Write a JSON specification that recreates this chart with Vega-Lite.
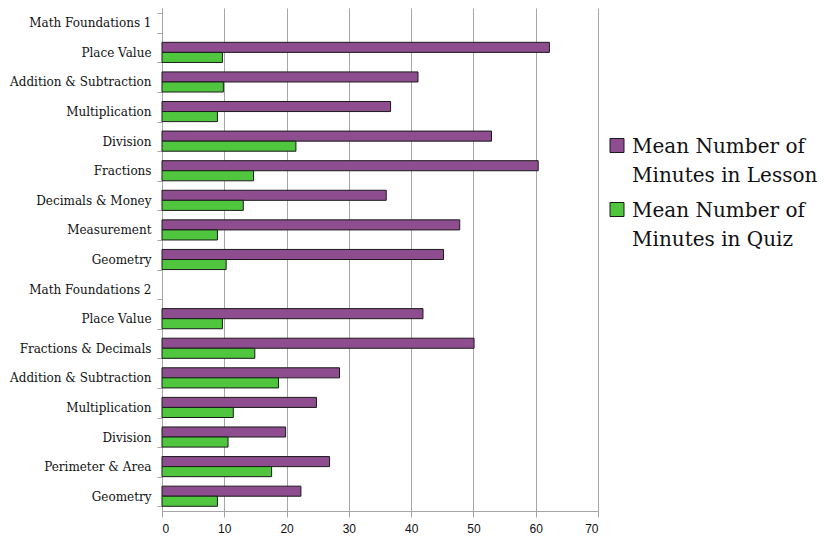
{
  "$schema": "https://vega.github.io/schema/vega-lite/v6.json",
  "width": 436,
  "height": 503,
  "autosize": {"type": "none"},
  "padding": {"left": 162, "top": 8, "right": 229, "bottom": 25},
  "background": "white",
  "data": {
    "values": [
      {"key": "01|Math Foundations 1", "series": "Lesson", "minutes": null},
      {"key": "02|Place Value", "series": "Lesson", "minutes": 62.2},
      {"key": "02|Place Value", "series": "Quiz", "minutes": 9.7},
      {"key": "03|Addition & Subtraction", "series": "Lesson", "minutes": 41.1},
      {"key": "03|Addition & Subtraction", "series": "Quiz", "minutes": 9.85},
      {"key": "04|Multiplication", "series": "Lesson", "minutes": 36.7},
      {"key": "04|Multiplication", "series": "Quiz", "minutes": 8.9},
      {"key": "05|Division", "series": "Lesson", "minutes": 52.9},
      {"key": "05|Division", "series": "Quiz", "minutes": 21.5},
      {"key": "06|Fractions", "series": "Lesson", "minutes": 60.4},
      {"key": "06|Fractions", "series": "Quiz", "minutes": 14.7},
      {"key": "07|Decimals & Money", "series": "Lesson", "minutes": 36.0},
      {"key": "07|Decimals & Money", "series": "Quiz", "minutes": 13.05},
      {"key": "08|Measurement", "series": "Lesson", "minutes": 47.8},
      {"key": "08|Measurement", "series": "Quiz", "minutes": 8.9},
      {"key": "09|Geometry", "series": "Lesson", "minutes": 45.2},
      {"key": "09|Geometry", "series": "Quiz", "minutes": 10.3},
      {"key": "10|Math Foundations 2", "series": "Lesson", "minutes": null},
      {"key": "11|Place Value", "series": "Lesson", "minutes": 41.9},
      {"key": "11|Place Value", "series": "Quiz", "minutes": 9.7},
      {"key": "12|Fractions & Decimals", "series": "Lesson", "minutes": 50.1},
      {"key": "12|Fractions & Decimals", "series": "Quiz", "minutes": 14.9},
      {"key": "13|Addition & Subtraction", "series": "Lesson", "minutes": 28.5},
      {"key": "13|Addition & Subtraction", "series": "Quiz", "minutes": 18.7},
      {"key": "14|Multiplication", "series": "Lesson", "minutes": 24.8},
      {"key": "14|Multiplication", "series": "Quiz", "minutes": 11.45},
      {"key": "15|Division", "series": "Lesson", "minutes": 19.85},
      {"key": "15|Division", "series": "Quiz", "minutes": 10.6},
      {"key": "16|Perimeter & Area", "series": "Lesson", "minutes": 26.9},
      {"key": "16|Perimeter & Area", "series": "Quiz", "minutes": 17.6},
      {"key": "17|Geometry", "series": "Lesson", "minutes": 22.3},
      {"key": "17|Geometry", "series": "Quiz", "minutes": 8.9}
    ]
  },
  "mark": {"type": "bar", "stroke": "#1a1a1a", "strokeWidth": 1},
  "encoding": {
    "y": {
      "field": "key",
      "type": "nominal",
      "scale": {
        "domain": ["01|Math Foundations 1", "02|Place Value", "03|Addition & Subtraction", "04|Multiplication", "05|Division", "06|Fractions", "07|Decimals & Money", "08|Measurement", "09|Geometry", "10|Math Foundations 2", "11|Place Value", "12|Fractions & Decimals", "13|Addition & Subtraction", "14|Multiplication", "15|Division", "16|Perimeter & Area", "17|Geometry"],
        "paddingInner": 0.32,
        "paddingOuter": 0.16
      },
      "axis": {
        "title": null,
        "labelExpr": "split(datum.label, '|')[1]",
        "labelFont": "DejaVu Serif",
        "labelFontSize": 12,
        "labelColor": "#111111",
        "labelPadding": 6,
        "domainColor": "#a6a6a6",
        "tickColor": "#a6a6a6",
        "tickBand": "extent",
        "tickSize": 5,
        "grid": false
      }
    },
    "yOffset": {
      "field": "series",
      "type": "nominal",
      "scale": {"domain": ["Lesson", "Quiz"], "paddingInner": 0, "paddingOuter": 0}
    },
    "x": {
      "field": "minutes",
      "type": "quantitative",
      "scale": {"domain": [0, 70], "nice": false},
      "axis": {
        "title": null,
        "values": [0, 10, 20, 30, 40, 50, 60, 70],
        "labelFont": "Liberation Sans",
        "labelFontSize": 12,
        "labelColor": "#111111",
        "labelPadding": 6,
        "domainColor": "#a6a6a6",
        "tickColor": "#a6a6a6",
        "tickSize": 6,
        "grid": true,
        "gridColor": "#a6a6a6",
        "gridWidth": 1
      }
    },
    "color": {
      "field": "series",
      "type": "nominal",
      "scale": {"domain": ["Lesson", "Quiz"], "range": ["#8d4d8e", "#4fc63e"]},
      "legend": {
        "orient": "none",
        "legendX": 445,
        "legendY": 135,
        "title": null,
        "symbolType": "M-1,-2.07H1V-0.07H-1Z",
        "symbolSize": 196,
        "symbolStrokeColor": "#1a1a1a",
        "symbolStrokeWidth": 1,
        "labelFont": "DejaVu Serif",
        "labelFontSize": 20,
        "labelColor": "#111111",
        "labelLimit": 300,
        "labelOffset": 5,
        "labelBaseline": "alphabetic",
        "rowPadding": 14,
        "labelExpr": "datum.label == 'Lesson' ? ['Mean Number of', 'Minutes in Lesson'] : ['Mean Number of', 'Minutes in Quiz']"
      }
    }
  },
  "config": {
    "view": {"stroke": null},
    "legend": {"symbolFillOpacity": 1},
    "style": {"guide-label": {"lineHeight": 29}}
  }
}
